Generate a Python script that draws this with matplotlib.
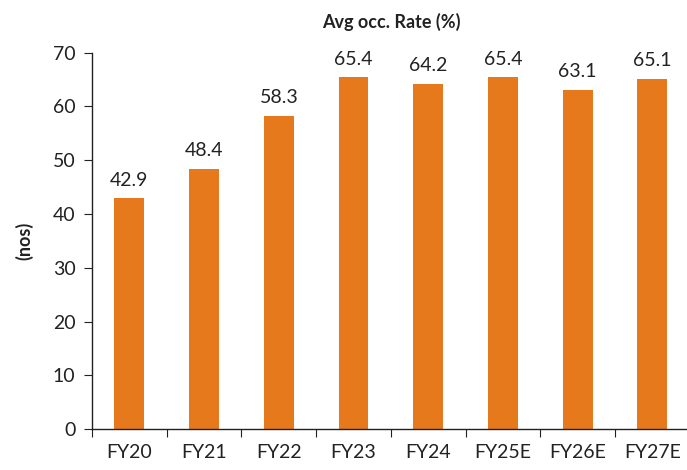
import matplotlib.pyplot as plt

years = ["FY20", "FY21", "FY22", "FY23", "FY24", "FY25E", "FY26E", "FY27E"]
occ_rate = [42.9, 48.4, 58.3, 65.4, 64.2, 65.4, 63.1, 65.1]
bar_color = "#E6791C"

plt.rcParams['font.family'] = ['Lato', 'DejaVu Sans']

fig = plt.figure(figsize=(6.87, 4.70), dpi=100)
ax = fig.add_axes([0.134, 0.087, 0.870, 0.801])

x = range(len(years))
bars = ax.bar(x, occ_rate, width=0.4, color=bar_color)
for xi, v in zip(x, occ_rate):
    ax.annotate(f"{v:.1f}", (xi, v), xytext=(0, 7), textcoords="offset points",
                ha="center", va="bottom", fontsize=14, color="#222222")

ax.set_xlim(-0.5, len(years) - 0.5)
ax.set_ylim(0, 70)
ax.set_yticks(range(0, 71, 10))
# ticks sit between categories, labels in the middle
ax.set_xticks([i - 0.5 for i in range(len(years) + 1)], minor=False)
ax.set_xticklabels([])
ax.set_xticks(list(x), minor=True)
ax.set_xticklabels(years, minor=True)
ax.tick_params(axis="x", which="major", length=6, direction="out", color="#222222")
ax.tick_params(axis="x", which="minor", length=0, labelsize=14, pad=11, labelcolor="#222222")
ax.tick_params(axis="y", length=6, direction="out", labelsize=14, pad=6, labelcolor="#222222", color="#222222")

for s in ["top", "right"]:
    ax.spines[s].set_visible(False)
for s in ["left", "bottom"]:
    ax.spines[s].set_color("#222222")
    ax.spines[s].set_linewidth(1.0)

ax.set_title("Avg occ. Rate (%)", fontsize=13, fontweight="bold", pad=18, color="#222222")
ax.set_ylabel("(nos)", fontsize=13, fontweight="bold", labelpad=14, color="#222222")

fig.savefig("out.png", dpi=100)
